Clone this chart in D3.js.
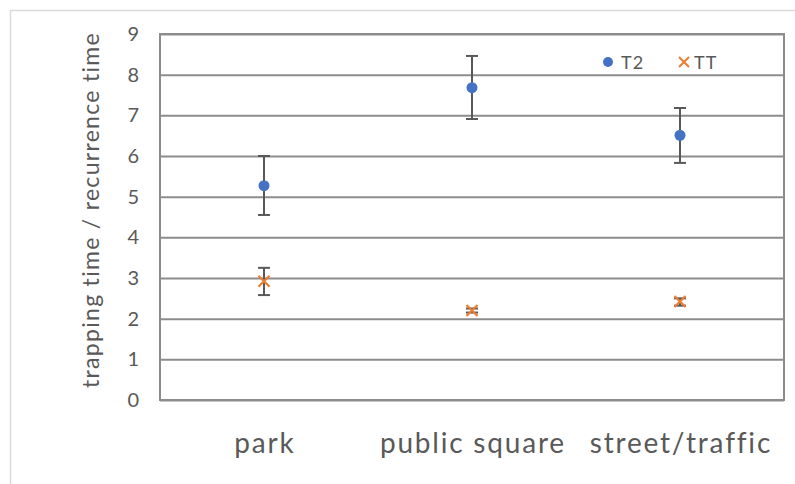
<!DOCTYPE html>
<html>
<head>
<meta charset="utf-8">
<script src="https://cdn.jsdelivr.net/npm/d3@7"></script>
<style>
  body { margin: 0; background: #fff; }
  text { font-family: Lato, 'Open Sans', sans-serif; fill: #595959; }
</style>
</head>
<body>
<svg id="chart"></svg>
<script>
const categories = ['park', 'public square', 'street/traffic']
const t2Values = [5.27, 7.68, 6.51]
const t2ErrLow = [4.55, 6.91, 5.83]
const t2ErrHigh = [6.0, 8.46, 7.18]
const ttValues = [2.92, 2.2, 2.42]
const ttErrLow = [2.58, 2.15, 2.32]
const ttErrHigh = [3.25, 2.25, 2.5]
const yTicks = [0, 1, 2, 3, 4, 5, 6, 7, 8, 9]

const W = 795
const H = 484
const margin = { top: 34, left: 160, right: 11, bottom: 84 }
const width = W - margin.left - margin.right
const height = H - margin.top - margin.bottom

const root = d3.select('#chart').attr('width', W).attr('height', H)

// outer frame
root.append('path')
  .attr('d', 'M10.5,' + H + 'V10.5H' + W)
  .attr('fill', 'none')
  .attr('stroke', '#d9d9d9')
  .attr('stroke-width', 1.5)

const svg = root.append('g')
  .attr('transform', 'translate(' + margin.left + ',' + margin.top + ')')

const xScale = d3.scaleBand().domain(categories).range([0, width])
const yScale = d3.scaleLinear().domain([0, 9]).range([height, 0])

// gridlines
svg.append('g')
  .attr('class', 'grid')
  .call(d3.axisLeft(yScale).tickValues(yTicks).tickSize(-width).tickFormat(''))
  .call(g => g.select('.domain').remove())
  .call(g => g.selectAll('line').attr('stroke', '#8c8c8c').attr('stroke-width', 2))

// plot box
svg.append('rect')
  .attr('width', width)
  .attr('height', height)
  .attr('fill', 'none')
  .attr('stroke', '#8c8c8c')
  .attr('stroke-width', 2)

// y axis labels
svg.append('g')
  .call(d3.axisLeft(yScale).tickValues(yTicks).tickSize(0).tickPadding(21))
  .call(g => g.select('.domain').remove())
  .call(g => g.selectAll('text').attr('font-size', 20).style('fill', '#595959'))

// x axis labels
svg.append('g')
  .attr('transform', 'translate(0,' + height + ')')
  .call(d3.axisBottom(xScale).tickSize(0).tickPadding(33))
  .call(g => g.select('.domain').remove())
  .call(g => g.selectAll('text')
    .attr('font-size', 28)
    .attr('letter-spacing', 1.8)
    .attr('dx', 0.9)
    .style('fill', '#595959'))

// y axis title
svg.append('text')
  .text('trapping time / recurrence time')
  .attr('transform', 'translate(' + (-61) + ',' + (height / 2 - 7) + ') rotate(-90)')
  .attr('text-anchor', 'middle')
  .attr('letter-spacing', 1.3)
  .attr('font-size', 23)

const cx = d => xScale(d) + xScale.bandwidth() / 2

function errorBars(low, high, cls) {
  const g = svg.append('g').attr('class', cls)
  categories.forEach((c, i) => {
    const x = cx(c)
    g.append('line')
      .attr('x1', x).attr('x2', x)
      .attr('y1', yScale(low[i])).attr('y2', yScale(high[i]))
      .attr('stroke', '#595959').attr('stroke-width', 2)
    ;[low[i], high[i]].forEach(v => {
      g.append('line')
        .attr('x1', x - 6).attr('x2', x + 6)
        .attr('y1', yScale(v)).attr('y2', yScale(v))
        .attr('stroke', '#595959').attr('stroke-width', 2)
    })
  })
}

errorBars(ttErrLow, ttErrHigh, 'tt-err')
errorBars(t2ErrLow, t2ErrHigh, 't2-err')

// T2 points
svg.selectAll('.t2')
  .data(categories)
  .join('circle')
  .attr('class', 't2')
  .attr('cx', d => cx(d))
  .attr('cy', (d, i) => yScale(t2Values[i]))
  .attr('r', 5.5)
  .attr('fill', '#4472C4')

// TT points
const cross = 'M-5.5,-5.5L5.5,5.5M-5.5,5.5L5.5,-5.5'
svg.selectAll('.tt')
  .data(categories)
  .join('path')
  .attr('class', 'tt')
  .attr('transform', (d, i) => 'translate(' + cx(d) + ',' + yScale(ttValues[i]) + ')')
  .attr('d', cross)
  .attr('stroke', '#ED7D31')
  .attr('stroke-width', 2.2)
  .attr('fill', 'none')

// legend
const legend = svg.append('g').attr('transform', 'translate(448,28)')
legend.append('circle').attr('cx', 0).attr('cy', 0).attr('r', 5).attr('fill', '#4472C4')
legend.append('text').text('T2').attr('x', 13).attr('y', 7).attr('font-size', 18).attr('letter-spacing', 1)
legend.append('path').attr('d', 'M71,-5L81,5M71,5L81,-5')
  .attr('stroke', '#ED7D31').attr('stroke-width', 2).attr('fill', 'none')
legend.append('text').text('TT').attr('x', 86).attr('y', 7).attr('font-size', 18).attr('letter-spacing', 1)
</script>
</body>
</html>
